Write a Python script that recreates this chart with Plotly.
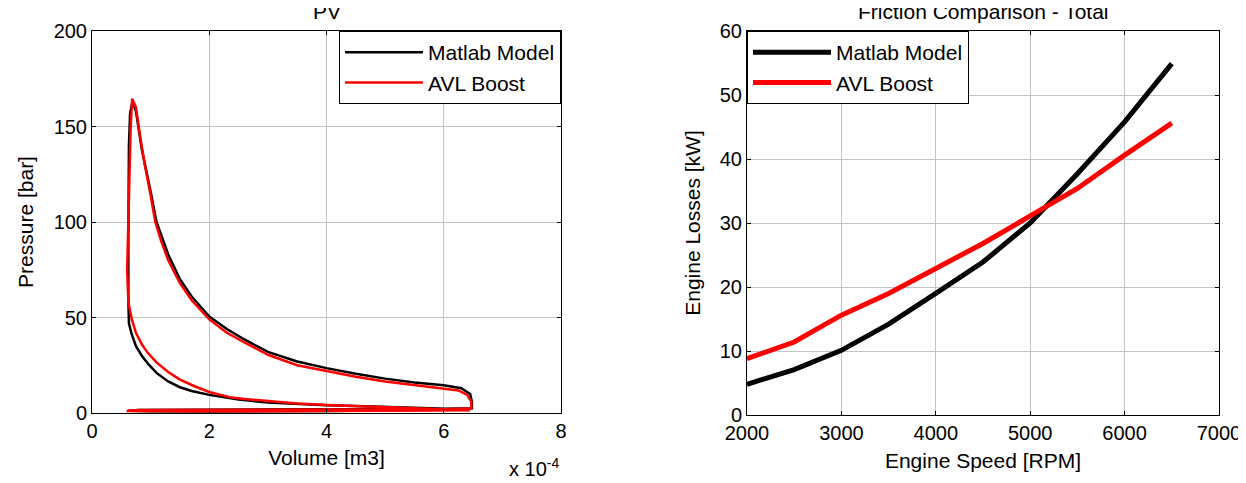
import plotly.graph_objects as go

# ---------------- PV diagram data (volume in units of 1e-4 m3, pressure in bar) ----------------
matlab_v = [6.45, 6.0, 5.4, 4.8, 4.0, 3.5, 3.0, 2.5, 2.0, 1.7, 1.5, 1.3, 1.1, 0.95, 0.85, 0.75, 0.68, 0.63,
            0.62, 0.62, 0.63, 0.63, 0.65, 0.69,
            0.75, 0.85, 1.0, 1.1, 1.3, 1.5, 1.7, 2.0, 2.3, 2.6, 3.0, 3.5, 4.0, 4.5, 5.0, 5.5, 6.0, 6.3, 6.45, 6.48, 6.48,
            6.0, 4.0, 2.0, 0.8, 0.62,
            1.0, 2.0, 4.0, 6.45]
matlab_p = [1.8, 2.3, 3.0, 3.4, 4.0, 4.7, 5.5, 7.0, 9.5, 11.5, 13.5, 16.5, 21.0, 26.0, 30.0, 35.0, 41.0, 47.0,
            60.0, 90.0, 120.0, 140.0, 157.0, 163.0,
            158.0, 138.0, 116.0, 100.0, 83.0, 70.0, 61.0, 50.5, 44.0, 38.5, 32.0, 27.0, 23.5, 20.5, 18.0, 16.0, 14.5, 13.0, 10.0, 6.0, 2.5,
            2.2, 2.0, 1.8, 1.6, 1.2,
            0.9, 0.8, 1.0, 1.8]

avl_v = [6.45, 6.0, 5.4, 4.8, 4.0, 3.5, 3.0, 2.6, 2.35, 2.0, 1.75, 1.5, 1.3, 1.1, 0.95, 0.85, 0.75, 0.68, 0.62, 0.60,
         0.60, 0.62, 0.64, 0.66, 0.685,
         0.75, 0.82, 0.9, 1.0, 1.08, 1.18, 1.3, 1.5, 1.7, 2.0, 2.3, 2.6, 3.0, 3.5, 4.0, 4.5, 5.0, 5.5, 6.0, 6.25, 6.4, 6.47, 6.47,
         6.0, 4.0, 2.0, 0.8, 0.59,
         1.0, 2.0, 4.0, 6.45]
avl_p = [1.5, 2.0, 2.6, 3.1, 4.2, 5.0, 6.2, 7.3, 8.3, 11.0, 14.0, 17.5, 21.5, 26.5, 31.5, 36.0, 42.0, 49.0, 58.0, 70.0,
         75.0, 100.0, 130.0, 150.0, 164.5,
         160.0, 145.0, 130.0, 114.0, 100.0, 90.0, 80.0, 68.0, 59.0, 49.0, 42.0, 37.0, 30.5, 25.0, 22.0, 19.0, 16.5, 14.7, 12.8, 11.8, 9.5, 6.0, 2.5,
         2.0, 1.8, 1.8, 1.6, 1.0,
         0.9, 0.9, 1.0, 1.5]

# ---------------- Friction comparison data ----------------
speed_rpm = [2000, 2500, 3000, 3500, 4000, 4500, 5000, 5500, 6000, 6500]
matlab_loss = [4.8, 7.1, 10.1, 14.2, 19.0, 23.9, 30.0, 37.7, 45.8, 54.9]
avl_loss = [8.8, 11.4, 15.6, 19.0, 22.9, 26.8, 31.1, 35.4, 40.6, 45.6]

pv_xticks = [0, 2, 4, 6, 8]
pv_yticks = [0, 50, 100, 150, 200]
fr_xticks = [2000, 3000, 4000, 5000, 6000, 7000]
fr_yticks = [0, 10, 20, 30, 40, 50, 60]

W, H = 1246, 483
OFF = 8  # page body margin offset
FONT = "Liberation Sans, Arial, sans-serif"


def fx(px):
    return (px - OFF) / W


def fy(py):
    return 1 - (py - OFF) / H


fig = go.Figure()

fig.add_trace(go.Scatter(x=matlab_v, y=matlab_p, mode="lines", name="Matlab Model",
                         line=dict(color="black", width=2.5), xaxis="x", yaxis="y", legend="legend"))
fig.add_trace(go.Scatter(x=avl_v, y=avl_p, mode="lines", name="AVL Boost",
                         line=dict(color="#ff0000", width=2.5), xaxis="x", yaxis="y", legend="legend"))
fig.add_trace(go.Scatter(x=speed_rpm, y=matlab_loss, mode="lines", name="Matlab Model",
                         line=dict(color="black", width=5), xaxis="x2", yaxis="y2", legend="legend2"))
fig.add_trace(go.Scatter(x=speed_rpm, y=avl_loss, mode="lines", name="AVL Boost",
                         line=dict(color="#ff0000", width=5), xaxis="x2", yaxis="y2", legend="legend2"))

axis_common = dict(showline=True, linecolor="black", linewidth=1, mirror="ticks",
                   ticks="inside", ticklen=4, tickcolor="black", tickwidth=1,
                   showgrid=True, gridcolor="#c4c4c4", gridwidth=1, zeroline=False,
                   automargin=False,
                   tickfont=dict(family=FONT, size=20, color="black"),
                   title_font=dict(family=FONT, size=21, color="black"))

L = (fx(92), fx(561))
R = (fx(747), fx(1219))
YL = (fy(413), fy(31))
YR = (fy(415), fy(31))

legend_common = dict(bgcolor="white", bordercolor="black", borderwidth=1,
                     font=dict(family=FONT, size=21, color="black"), itemwidth=78,
                     tracegroupgap=0)

fig.update_layout(
    width=W, height=H,
    margin=dict(l=0, r=0, t=0, b=0),
    paper_bgcolor="white", plot_bgcolor="white",
    showlegend=True,
    xaxis=dict(axis_common, domain=L, range=[0, 8], tickvals=pv_xticks, anchor="y",
               title=dict(text="Volume [m3]", standoff=9)),
    yaxis=dict(axis_common, domain=YL, range=[0, 200], tickvals=pv_yticks, anchor="x",
               title=dict(text="Pressure [bar]", standoff=14)),
    xaxis2=dict(axis_common, domain=R, range=[2000, 7000], tickvals=fr_xticks, anchor="y2",
                title=dict(text="Engine Speed [RPM]", standoff=10)),
    yaxis2=dict(axis_common, domain=YR, range=[0, 60], tickvals=fr_yticks, anchor="x2",
                title=dict(text="Engine Losses [kW]", standoff=13)),
    legend=dict(legend_common, x=fx(561), xanchor="right", y=fy(31), yanchor="top"),
    legend2=dict(legend_common, x=fx(747), xanchor="left", y=fy(31), yanchor="top"),
    annotations=[
        dict(text="PV", x=fx((92 + 561) / 2), y=fy(11.5), xref="paper", yref="paper",
             xanchor="center", yanchor="middle", showarrow=False,
             font=dict(family=FONT, size=21, color="black")),
        dict(text="Friction Comparison - Total", x=fx((747 + 1219) / 2), y=fy(11.5),
             xref="paper", yref="paper", xanchor="center", yanchor="middle", showarrow=False,
             font=dict(family=FONT, size=21, color="black")),
        dict(text="x 10<sup>-4</sup>", x=fx(561), y=fy(467), xref="paper", yref="paper",
             xanchor="right", yanchor="middle", showarrow=False,
             font=dict(family=FONT, size=20, color="black")),
    ],
)

fig.write_html("out.html")
